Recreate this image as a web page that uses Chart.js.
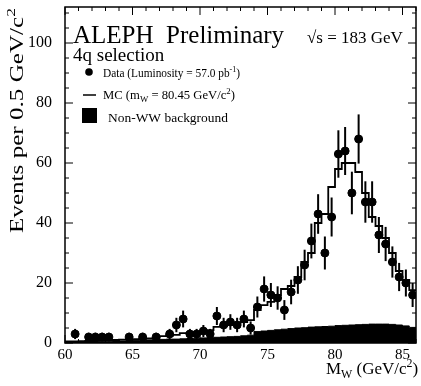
<!DOCTYPE html>
<html>
<head>
<meta charset="utf-8">
<script src="https://cdn.jsdelivr.net/npm/chart.js@4.4.1/dist/chart.umd.min.js"></script>
<style>
  html, body { margin: 0; padding: 0; background: #fff; }
  #wrap { width: 421px; height: 386px; }
</style>
</head>
<body>
<div id="wrap"><canvas id="c" width="421" height="386"></canvas></div>
<script>
// bin centres, 0.5 GeV bins from 60 to 86
const binCenters = [
  60.25, 60.75, 61.25, 61.75, 62.25, 62.75, 63.25, 63.75, 64.25, 64.75,
  65.25, 65.75, 66.25, 66.75, 67.25, 67.75, 68.25, 68.75, 69.25, 69.75,
  70.25, 70.75, 71.25, 71.75, 72.25, 72.75, 73.25, 73.75, 74.25, 74.75,
  75.25, 75.75, 76.25, 76.75, 77.25, 77.75, 78.25, 78.75, 79.25, 79.75,
  80.25, 80.75, 81.25, 81.75, 82.25, 82.75, 83.25, 83.75, 84.25, 84.75,
  85.25, 85.75
];
// data events (null = no entry)
const dataEvents = [
  null, 3, null, 2, 2, 2, 2, null, null, 2,
  null, 2, null, 2, null, 3, 6, 8, 3, 3,
  4, 3, 9, 6, 7, 6, 8, 5, 12, 18,
  16, 15, 11, 17, 21, 26, 34, 43, 30, 42,
  63, 64, 50, 68, 47, 47, 36, 33, 27, 22,
  20, 16
];
// statistical errors on the data points
const dataErrors = [
  null, 1.7, null, 1.4, 1.4, 1.4, 1.4, null, null, 1.4,
  null, 1.4, null, 1.4, null, 1.7, 2.4, 2.8, 1.7, 1.7,
  2.0, 1.7, 3.0, 2.4, 2.6, 2.4, 2.8, 2.2, 3.5, 4.2,
  4.0, 3.9, 3.3, 4.1, 4.6, 5.1, 5.8, 6.6, 5.5, 6.5,
  7.9, 8.0, 7.1, 8.2, 6.9, 6.9, 6.0, 5.7, 5.2, 4.7,
  4.5, 4.0
];
// MC expectation (mW = 80.45)
const mcEvents = [
  0.5, 0.5, 0.6, 0.7, 0.8, 0.9, 1.0, 1.0, 1.1, 1.2,
  1.3, 1.4, 1.5, 1.7, 2.3, 2.5, 2.7, 3.3, 3.4, 3.6,
  3.8, 4.3, 5.4, 5.6, 6.0, 6.6, 7.0, 7.6, 11, 12.6,
  13.7, 16, 18, 19, 22, 27, 30, 40, 43, 52,
  58, 60, 60, 57, 50, 42, 39, 35, 30, 24,
  21, 17.6
];
// non-WW background
const bkgEvents = [
  0.3, 0.4, 0.4, 0.5, 0.5, 0.6, 0.6, 0.7, 0.7, 0.8,
  0.9, 0.9, 1.0, 1.1, 1.2, 1.3, 1.3, 1.4, 1.5, 1.6,
  1.7, 1.8, 1.9, 2.0, 2.1, 2.2, 2.4, 2.6, 3.8, 4.0,
  4.2, 4.4, 4.6, 4.8, 5.0, 5.1, 5.3, 5.4, 5.5, 5.6,
  5.8, 5.9, 6.0, 6.1, 6.2, 6.3, 6.3, 6.3, 6.2, 6.0,
  5.7, 5.2
];
const xTicks = [60, 65, 70, 75, 80, 85];
const yTicks = [0, 20, 40, 60, 80, 100];
const binHalf = 0.25;

const serif = '"Liberation Serif", "DejaVu Serif", serif';

function stepPoints(vals) {
  const pts = binCenters.map((c, i) => ({ x: c - binHalf, y: vals[i] }));
  pts.push({ x: binCenters[binCenters.length - 1] + binHalf, y: vals[vals.length - 1] });
  return pts;
}

// draw a list of [text, mode] pieces, mode: '' normal, 'sub', 'sup'
function drawRich(ctx, pieces, x, y, size) {
  let cx = x;
  pieces.forEach(([t, mode]) => {
    let s = size, dy = 0;
    if (mode === 'sub') { s = size * 0.7; dy = size * 0.25; }
    if (mode === 'sup') { s = size * 0.7; dy = -size * 0.4; }
    ctx.font = s + 'px ' + serif;
    ctx.fillText(t, cx, y + dy);
    cx += ctx.measureText(t).width;
  });
  return cx - x;
}

function measureRich(ctx, pieces, size) {
  let w = 0;
  pieces.forEach(([t, mode]) => {
    const s = mode ? size * 0.7 : size;
    ctx.font = s + 'px ' + serif;
    w += ctx.measureText(t).width;
  });
  return w;
}

// same, squeezed or stretched to a given width
function drawRichFit(ctx, pieces, x, y, size, width) {
  const w = measureRich(ctx, pieces, size);
  ctx.save();
  ctx.translate(x, y);
  ctx.scale(width / w, 1);
  drawRich(ctx, pieces, 0, 0, size);
  ctx.restore();
}

const errorBars = {
  id: 'errorBars',
  afterDatasetsDraw(chart) {
    const { ctx, scales: { x, y } } = chart;
    ctx.save();
    ctx.strokeStyle = '#000';
    ctx.lineWidth = 2;
    binCenters.forEach((c, i) => {
      if (dataEvents[i] == null) return;
      const px = x.getPixelForValue(c);
      const lo = y.getPixelForValue(Math.max(0, dataEvents[i] - dataErrors[i]));
      const hi = y.getPixelForValue(dataEvents[i] + dataErrors[i]);
      ctx.beginPath();
      ctx.moveTo(px, lo);
      ctx.lineTo(px, hi);
      ctx.stroke();
    });
    ctx.restore();
  }
};

const frame = {
  id: 'frame',
  afterDraw(chart) {
    const { ctx, chartArea: a, scales: { x, y } } = chart;
    ctx.save();
    ctx.strokeStyle = '#000';
    ctx.lineWidth = 1.5;
    ctx.strokeRect(a.left, a.top, a.right - a.left, a.bottom - a.top);
    ctx.lineWidth = 1;
    ctx.beginPath();
    for (let v = 60; v <= 86; v++) {
      const px = x.getPixelForValue(v);
      const len = v % 5 === 0 ? 8 : 4;
      ctx.moveTo(px, a.bottom); ctx.lineTo(px, a.bottom - len);
      ctx.moveTo(px, a.top); ctx.lineTo(px, a.top + len);
    }
    for (let v = 0; v <= 110; v += 5) {
      const py = y.getPixelForValue(v);
      const len = v % 20 === 0 ? 8 : 4;
      ctx.moveTo(a.left, py); ctx.lineTo(a.left + len, py);
      ctx.moveTo(a.right, py); ctx.lineTo(a.right - len, py);
    }
    ctx.stroke();

    // texts
    ctx.fillStyle = '#000';
    ctx.textBaseline = 'alphabetic';
    ctx.textAlign = 'left';
    ctx.font = '25px ' + serif;
    ctx.fillText('ALEPH  Preliminary', 73, 43);
    ctx.font = '17px ' + serif;
    ctx.fillText('\u221As = 183 GeV', 307, 43);
    ctx.font = '19px ' + serif;
    ctx.fillText('4q selection', 73, 61);

    // legend
    ctx.beginPath();
    ctx.arc(89, 72, 3.8, 0, Math.PI * 2);
    ctx.fill();
    drawRichFit(ctx, [['Data (Luminosity = 57.0 pb', ''], ['-1', 'sup'], [')', '']], 103, 77, 13, 137);
    ctx.lineWidth = 1.5;
    ctx.beginPath();
    ctx.moveTo(83, 95); ctx.lineTo(96, 95);
    ctx.stroke();
    drawRichFit(ctx, [['MC (m', ''], ['W', 'sub'], [' = 80.45 GeV/c', ''], ['2', 'sup'], [')', '']], 103, 99, 13, 132);
    ctx.fillRect(82, 108, 15, 15);
    drawRichFit(ctx, [['Non-WW background', '']], 108, 122, 13.5, 120);

    // x title
    drawRich(ctx, [['M', ''], ['W', 'sub'], [' (GeV/c', ''], ['2', 'sup'], [')', '']], 326, 374, 17);

    // y title, runs from the top of the frame down to ~y=233
    ctx.save();
    ctx.translate(23, 8);
    ctx.rotate(-Math.PI / 2);
    drawRichFit(ctx, [['Events per 0.5 GeV/c', ''], ['2', 'sup']], -225, 0, 19, 225);
    ctx.restore();
    ctx.restore();
  }
};

new Chart(document.getElementById('c'), {
  type: 'scatter',
  data: {
    datasets: [
      {
        label: 'Data',
        data: binCenters.map((c, i) => ({ x: c, y: dataEvents[i] })).filter(p => p.y != null),
        pointRadius: 4,
        pointBackgroundColor: '#000',
        pointBorderColor: '#000',
        showLine: false,
        order: 1
      },
      {
        label: 'MC',
        data: stepPoints(mcEvents),
        showLine: true,
        stepped: 'before',
        borderColor: '#000',
        borderWidth: 1.8,
        pointRadius: 0,
        fill: false,
        order: 2
      },
      {
        label: 'Non-WW background',
        data: stepPoints(bkgEvents),
        showLine: true,
        stepped: 'before',
        borderColor: '#000',
        borderWidth: 1,
        backgroundColor: '#000',
        pointRadius: 0,
        fill: 'origin',
        order: 3
      }
    ]
  },
  options: {
    responsive: false,
    animation: false,
    events: [],
    layout: { padding: { top: 7, right: 3, left: 0, bottom: 0 } },
    plugins: { legend: { display: false }, tooltip: { enabled: false } },
    scales: {
      x: {
        type: 'linear',
        min: 60,
        max: 86,
        grid: { display: false, drawTicks: false, tickLength: 0 },
        border: { display: false },
        afterBuildTicks: s => { s.ticks = xTicks.map(v => ({ value: v })); },
        afterFit: s => { s.height = 43; s.paddingLeft = 0; s.paddingRight = 0; },
        ticks: { color: '#000', font: { family: serif, size: 15 }, padding: 3, maxRotation: 0 }
      },
      y: {
        min: 0,
        max: 112,
        grid: { display: false, drawTicks: false, tickLength: 0 },
        border: { display: false },
        afterBuildTicks: s => { s.ticks = yTicks.map(v => ({ value: v })); },
        afterFit: s => { s.width = 65; s.paddingTop = 0; s.paddingBottom = 0; },
        ticks: { color: '#000', font: { family: serif, size: 16 }, padding: 13 }
      }
    }
  },
  plugins: [errorBars, frame]
});
</script>
</body>
</html>
